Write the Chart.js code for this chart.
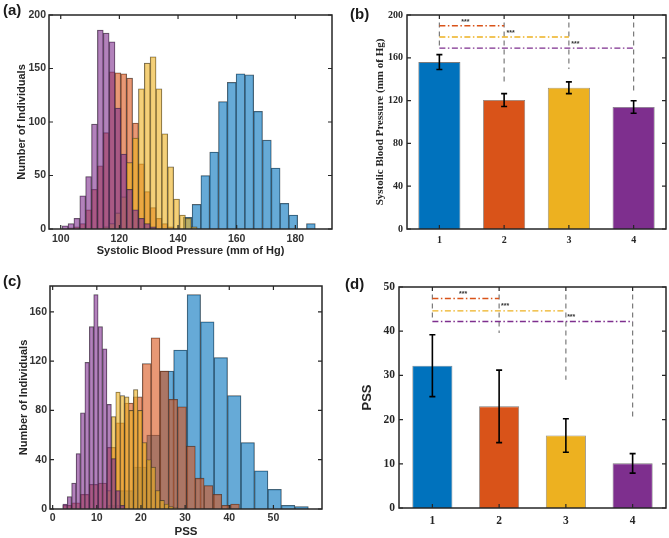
<!DOCTYPE html>
<html lang="en">
<head>
    <meta charset="UTF-8">
    <title>Blood pressure and PSS</title>
    <style>
        body {
            margin: 0;
            background: #ffffff;
            width: 669px;
            height: 538px;
            position: relative;
            overflow: hidden;
        }
        canvas {
            position: absolute;
        }
        .tag {
            position: absolute;
            font-family: "Liberation Sans", Arial, sans-serif;
            font-weight: bold;
            font-size: 15px;
            color: #1a1a1a;
        }
    </style>
    <script src="https://cdn.jsdelivr.net/npm/chart.js"></script>
</head>
<body>
    <canvas id="chartA" width="335" height="270" style="left:0;top:0"></canvas>
    <canvas id="chartB" width="334" height="270" style="left:335px;top:0"></canvas>
    <canvas id="chartC" width="335" height="268" style="left:0;top:270px"></canvas>
    <canvas id="chartD" width="334" height="268" style="left:335px;top:270px"></canvas>
    <div class="tag" style="left:3px;top:1px">(a)</div>
    <div class="tag" style="left:350px;top:5px">(b)</div>
    <div class="tag" style="left:3px;top:272px">(c)</div>
    <div class="tag" style="left:345px;top:275px">(d)</div>

    <script>
        // ---- (a) systolic blood pressure histograms: bin centres and counts ----
        const sbpBlueBins = [143.3, 146.3, 149.3, 152.3, 155.3, 158.3, 161.3, 164.3, 167.3, 170.3, 173.3, 176.3, 179.3, 182.3, 185.3];
        const sbpBlueCounts = [11, 23, 50, 72, 119, 137, 145, 144, 110, 83, 57, 24, 13, 0, 5];
        const sbpOrangeBins = [101.5, 103.5, 105.5, 107.5, 109.5, 111.5, 113.5, 115.5, 117.5, 119.5, 121.5, 123.5, 125.5, 127.5, 129.5, 131.5, 133.5, 135.5, 137.5];
        const sbpOrangeCounts = [0, 1, 2, 5, 18, 37, 59, 90, 147, 146, 145, 141, 99, 61, 35, 20, 10, 5, 2];
        const sbpYellowBins = [115.5, 117.5, 119.5, 121.5, 123.5, 125.5, 127.5, 129.5, 131.5, 133.5, 135.5, 137.5, 139.5, 141.5, 143.5, 145.5];
        const sbpYellowCounts = [2, 5, 15, 30, 62, 85, 131, 155, 161, 131, 89, 58, 28, 13, 10, 2];
        const sbpPurpleBins = [101.5, 103.5, 105.5, 107.5, 109.5, 111.5, 113.5, 115.5, 117.5, 119.5, 121.5, 123.5, 125.5, 127.5, 129.5, 131.5];
        const sbpPurpleCounts = [3, 5, 10, 31, 49, 98, 186, 183, 175, 113, 70, 37, 18, 10, 5, 2];
        const sbpXTicks = [100, 120, 140, 160, 180];
        const sbpYTicks = [0, 50, 100, 150, 200];

        // ---- (c) PSS histograms ----
        const pssBlueBins = [13.68, 16.73, 19.78, 22.83, 25.88, 28.93, 31.98, 35.03, 38.08, 41.13, 44.18, 47.23, 50.28, 53.33, 56.38];
        const pssBlueCounts = [3, 15, 34, 60, 112, 129, 174, 152, 123, 92, 54, 31, 16, 3, 2];
        const pssOrangeBins = [3.3, 5.3, 7.3, 9.3, 11.3, 13.3, 15.3, 17.3, 19.3, 21.3, 23.3, 25.3, 27.3, 29.3, 31.3, 33.3, 35.3, 37.3, 39.3, 41.3];
        const pssOrangeCounts = [3, 5, 12, 20, 21, 50, 70, 86, 91, 118, 139, 112, 89, 83, 51, 25, 19, 12, 3, 4];
        const pssYellowBins = [12.8, 13.8, 14.8, 15.8, 16.8, 17.8, 18.8, 19.8, 20.8, 21.8, 22.8, 23.8, 24.8, 25.8, 26.8, 27.8];
        const pssYellowCounts = [15, 75, 95, 92, 91, 80, 97, 80, 54, 40, 34, 15, 7, 4, 2, 1];
        const pssPurpleBins = [2.8, 3.8, 4.8, 5.8, 6.8, 7.8, 8.8, 9.8, 10.8, 11.8, 12.8, 13.8, 14.8, 15.8];
        const pssPurpleCounts = [4, 10, 21, 45, 78, 119, 148, 174, 148, 130, 85, 41, 15, 3];
        const pssXTicks = [0, 10, 20, 30, 40, 50];
        const pssYTicks = [0, 40, 80, 120, 160];

        // ---- (b) and (d) group means with error bars ----
        const groups = [1, 2, 3, 4];
        const sbpMeans = [156, 120.5, 132, 114];
        const sbpErrors = [7, 6, 5.5, 5.8];
        const sbpBarTicks = [0, 40, 80, 120, 160, 200];
        const pssMeans = [32.2, 23, 16.4, 10.1];
        const pssErrors = [7, 8.2, 3.8, 2.2];
        const pssBarTicks = [0, 10, 20, 30, 40, 50];

        // significance brackets: level of the dash-dot line from group 1 to group 2/3/4
        const sbpSigLevels = [190, 179.5, 169];
        const sbpDropTop = 193;
        const sbpDropEnds = [168, 137, 149.5, 127];
        const sbpStarX = [1.4, 2.1, 3.1];
        const sbpStarY = [193.5, 183.5, 173];
        const pssSigLevels = [47.4, 44.6, 42.2];
        const pssDropTop = 48.3;
        const pssDropEnds = [42.2, 39.6, 29, 20.7];
        const pssStarX = [1.46, 2.09, 3.08];
        const pssStarY = [48.4, 45.6, 43.1];

        const matlabColors = ['#0072BD', '#D95319', '#EDB120', '#7E2F8E'];
        const histFill = ['rgba(0,114,189,0.6)', 'rgba(217,83,25,0.6)', 'rgba(237,177,32,0.6)', 'rgba(126,47,142,0.6)'];

        const sansBold = { family: '"Liberation Sans", Arial, sans-serif', weight: 'bold' };
        const serifBold = { family: '"Liberation Serif", "Times New Roman", serif', weight: 'bold' };

        // box around the axes with inward ticks on all four sides
        const boxPlugin = {
            id: 'boxTicks',
            afterDraw(chart) {
                const { ctx, chartArea: a, scales } = chart;
                ctx.save();
                ctx.strokeStyle = '#262626';
                ctx.lineWidth = 1.5;
                ctx.strokeRect(a.left, a.top, a.width, a.height);
                ctx.lineWidth = 1.2;
                ctx.beginPath();
                scales.x.ticks.forEach(t => {
                    const px = scales.x.getPixelForValue(t.value);
                    ctx.moveTo(px, a.bottom); ctx.lineTo(px, a.bottom - 4);
                    ctx.moveTo(px, a.top); ctx.lineTo(px, a.top + 4);
                });
                scales.y.ticks.forEach(t => {
                    const py = scales.y.getPixelForValue(t.value);
                    ctx.moveTo(a.left, py); ctx.lineTo(a.left + 4, py);
                    ctx.moveTo(a.right, py); ctx.lineTo(a.right - 4, py);
                });
                ctx.stroke();
                ctx.restore();
            }
        };

        // error bars and significance stars for the bar panels
        const errorPlugin = {
            id: 'errorBars',
            afterDatasetsDraw(chart, args, opts) {
                if (!opts.means) return;
                const { ctx, scales: { x, y } } = chart;
                ctx.save();
                ctx.strokeStyle = '#000';
                ctx.lineWidth = 1.6;
                ctx.beginPath();
                opts.means.forEach((m, i) => {
                    const px = x.getPixelForValue(groups[i]);
                    const top = y.getPixelForValue(m + opts.errors[i]);
                    const bot = y.getPixelForValue(m - opts.errors[i]);
                    ctx.moveTo(px, top); ctx.lineTo(px, bot);
                    ctx.moveTo(px - 3, top); ctx.lineTo(px + 3, top);
                    ctx.moveTo(px - 3, bot); ctx.lineTo(px + 3, bot);
                });
                ctx.stroke();
                ctx.fillStyle = '#333';
                ctx.font = 'bold 7px "Liberation Sans", Arial';
                ctx.textAlign = 'center';
                ctx.textBaseline = 'middle';
                opts.starX.forEach((sx, i) => {
                    ctx.fillText('***', x.getPixelForValue(sx), y.getPixelForValue(opts.starY[i]));
                });
                ctx.restore();
            }
        };

        function fixedTicks(values) {
            return axis => { axis.ticks = values.map(v => ({ value: v })); };
        }

        function histogramChart(id, bins, counts, xMin, xMax, xTicks, yMax, yTicks, xTitle, lay) {
            const scales = {
                x: {
                    type: 'linear', position: 'bottom', min: xMin, max: xMax, offset: false,
                    afterBuildTicks: fixedTicks(xTicks),
                    afterFit: s => { s.height = lay.xh; },
                    grid: { display: false, drawTicks: false, offset: false },
                    border: { display: false },
                    ticks: { color: '#333', font: { ...sansBold, size: 10.5 }, padding: lay.xpad, maxRotation: 0 },
                    title: { display: true, text: xTitle, color: '#262626', font: { ...sansBold, size: lay.xts }, padding: { top: 0, bottom: lay.xtb } }
                },
                y: {
                    min: 0, max: yMax,
                    afterBuildTicks: fixedTicks(yTicks),
                    afterFit: s => { s.width = lay.yw; },
                    grid: { display: false, drawTicks: false },
                    border: { display: false },
                    ticks: { color: '#333', font: { ...sansBold, size: 10.5 }, padding: 3 },
                    title: { display: true, text: 'Number of Individuals', color: '#262626', font: { ...sansBold, size: 11 }, padding: { top: lay.ytp, bottom: 0 } }
                }
            };
            const datasets = bins.map((b, i) => {
                // one hidden x axis per series so each keeps its own bin width
                scales['x' + i] = {
                    type: 'linear', axis: 'x', position: 'bottom', display: false,
                    min: xMin, max: xMax, offset: false, grid: { offset: false },
                    afterBuildTicks: axis => { axis.ticks = []; }
                };
                return {
                    type: 'bar',
                    data: b.map((c, j) => ({ x: c, y: counts[i][j] })),
                    xAxisID: 'x' + i,
                    backgroundColor: histFill[i],
                    borderColor: 'rgba(40,40,40,0.75)',
                    borderWidth: 0.6,
                    barPercentage: 1,
                    categoryPercentage: 1,
                    grouped: false,
                    order: bins.length - i
                };
            });
            return new Chart(document.getElementById(id), {
                data: { datasets },
                options: {
                    responsive: false,
                    animation: false,
                    layout: { padding: lay.pad },
                    plugins: { legend: { display: false }, tooltip: { enabled: false } },
                    scales
                },
                plugins: [boxPlugin]
            });
        }

        function meanChart(id, means, errors, yMax, yTicks, yTitle, yTitleFont, sig, lay) {
            const datasets = [{
                type: 'bar',
                data: groups.map((g, i) => ({ x: g, y: means[i] })),
                backgroundColor: matlabColors,
                borderColor: 'rgba(90,90,90,0.8)',
                borderWidth: 0.8,
                barPercentage: lay.barW,
                categoryPercentage: 1,
                order: 5
            }];
            // dashed drop lines from each group
            groups.forEach((g, i) => {
                datasets.push({
                    type: 'line',
                    data: [{ x: g, y: sig.top }, { x: g, y: sig.ends[i] }],
                    borderColor: '#7a7a7a', borderWidth: 1.2, borderDash: [5, 4],
                    pointRadius: 0, fill: false, order: 1
                });
            });
            // dash-dot comparison lines, group 1 to group 2, 3, 4
            sig.levels.forEach((lv, i) => {
                datasets.push({
                    type: 'line',
                    data: [{ x: groups[0], y: lv }, { x: groups[i + 1], y: lv }],
                    borderColor: matlabColors[i + 1], borderWidth: 1.4, borderDash: [6, 2.5, 1.5, 2.5],
                    pointRadius: 0, fill: false, order: 0
                });
            });
            return new Chart(document.getElementById(id), {
                data: { datasets },
                options: {
                    responsive: false,
                    animation: false,
                    layout: { padding: lay.pad },
                    plugins: {
                        legend: { display: false }, tooltip: { enabled: false },
                        errorBars: { means, errors, starX: sig.starX, starY: sig.starY }
                    },
                    scales: {
                        x: {
                            type: 'linear', min: 0.5, max: 4.5, offset: false,
                            afterBuildTicks: fixedTicks(groups),
                            afterFit: s => { s.height = lay.xh; },
                            grid: { display: false, drawTicks: false, offset: false },
                            border: { display: false },
                            ticks: { color: '#262626', font: { ...serifBold, size: lay.tickSize }, padding: lay.xpad }
                        },
                        y: {
                            min: 0, max: yMax,
                            afterBuildTicks: fixedTicks(yTicks),
                            afterFit: s => { s.width = lay.yw; },
                            grid: { display: false, drawTicks: false },
                            border: { display: false },
                            ticks: { color: '#262626', font: { ...serifBold, size: lay.tickSize }, padding: 4 },
                            title: { display: true, text: yTitle, color: '#262626', font: yTitleFont, padding: { top: lay.ytp, bottom: 0 } }
                        }
                    }
                },
                plugins: [boxPlugin, errorPlugin]
            });
        }

        histogramChart('chartA',
            [sbpBlueBins, sbpOrangeBins, sbpYellowBins, sbpPurpleBins],
            [sbpBlueCounts, sbpOrangeCounts, sbpYellowCounts, sbpPurpleCounts],
            96, 192.5, sbpXTicks, 200, sbpYTicks, 'Systolic Blood Pressure (mm of Hg)',
            { pad: { top: 15, right: 3, left: 0, bottom: 0 }, xh: 41, yw: 49, xpad: 4, xts: 11, xtb: 12, ytp: 15 });

        histogramChart('chartC',
            [pssBlueBins, pssOrangeBins, pssYellowBins, pssPurpleBins],
            [pssBlueCounts, pssOrangeCounts, pssYellowCounts, pssPurpleCounts],
            -0.6, 61, pssXTicks, 181, pssYTicks, 'PSS',
            { pad: { top: 16, right: 13, left: 0, bottom: 0 }, xh: 29, yw: 50, xpad: 3, xts: 11.5, xtb: -1, ytp: 17 });

        meanChart('chartB', sbpMeans, sbpErrors, 200, sbpBarTicks, 'Systolic Blood Pressure (mm of Hg)',
            { ...serifBold, size: 11 },
            { top: sbpDropTop, ends: sbpDropEnds, levels: sbpSigLevels, starX: sbpStarX, starY: sbpStarY },
            { pad: { top: 15, right: 3, left: 0, bottom: 0 }, xh: 41, yw: 72, xpad: 5, tickSize: 10, ytp: 39, barW: 0.65 });

        meanChart('chartD', pssMeans, pssErrors, 50, pssBarTicks, 'PSS',
            { ...sansBold, size: 13 },
            { top: pssDropTop, ends: pssDropEnds, levels: pssSigLevels, starX: pssStarX, starY: pssStarY },
            { pad: { top: 17, right: 3, left: 0, bottom: 0 }, xh: 30, yw: 64, xpad: 6, tickSize: 11.5, ytp: 25, barW: 0.6 });
    </script>
</body>
</html>
